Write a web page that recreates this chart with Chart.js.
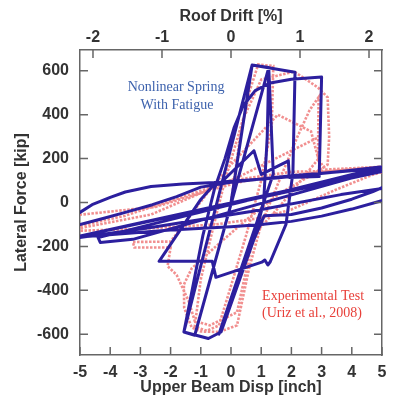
<!DOCTYPE html>
<html>
<head>
<meta charset="utf-8">
<script src="https://cdn.jsdelivr.net/npm/chart.js@4.4.1/dist/chart.umd.min.js"></script>
<style>
  body { margin: 0; background: #fff; }
  #wrap { width: 396px; height: 398px; }
</style>
</head>
<body>
<div id="wrap"><canvas id="hyst" width="396" height="398"></canvas></div>
<script>
// tick labels
const dispTicks = [-5, -4, -3, -2, -1, 0, 1, 2, 3, 4, 5];
const driftTicks = [-2, -1, 0, 1, 2];
const forceTicks = [-600, -400, -200, 0, 200, 400, 600];
const inchPerPercent = 2.285;

// Nonlinear spring with fatigue (blue), disp [inch] / force [kip]
const springDisp = [
  0.00, 0.70, 1.25, 1.20, 1.08, 0.76, -0.33, -0.75, -1.56, -0.93,
  -0.55, -0.20, 0.10, 0.40, 0.80, 1.30, 2.00, 3.00, 2.92, 1.93,
  1.90, 1.00, 0.76, -0.33, -0.56, -1.00, -2.38, -0.62, -0.50, 1.02,
  1.12, 1.22, 1.30, 1.82, 2.05, 2.12, 0.70, -1.56, -1.20, 1.25,
  1.40, -0.26, -0.40, 0.76, 1.10, 2.00, 3.00, 4.00, 4.70, 5.30,
  5.30, 3.64, 1.50, -0.56, -1.60, -2.65, -3.50, -4.00, -4.60, -5.00,
  -5.30, -5.30, -2.65, 0.66, 3.64, 5.30, 5.30, 2.00, 0.00, -1.00,
  -1.80, -2.60, -3.50, -4.30, -5.00, -5.30, -5.30, -2.00, 0.00, 1.00,
  2.00, 3.00, 4.00, 5.30, 5.30, -4.40, -4.33, -3.25, 5.30, 5.30,
  -5.30, 5.30
];
const springForce = [
  0, 627, 615, 300, 0, -168, -590, -620, -590, -150,
  60, 200, 340, 440, 510, 545, 562, 572, 118, 114,
  190, 128, 236, 91, 82, 14, -268, -268, -341, -272,
  -262, -285, -270, -100, 136, 594, 627, -590, -605, 615,
  130, -542, -600, -168, -60, -55, -25, 15, 50, 85,
  168, 141, 112, 91, 84, 73, 48, 23, -10, -45,
  -70, -165, -114, -41, 36, 70, 160, 122, 92, 70,
  27, -10, -45, -75, -100, -115, -160, -125, -110, -100,
  -86, -62, -30, 20, 172, -160, -182, -168, 162, 150,
  -162, 158
];

// Experimental test, Uriz et al. 2008 (pink)
const testDisp = [
  0.00, 0.30, 0.60, 0.90, 1.40, 1.35, 1.00, 0.50, 0.00, -0.40,
  -0.80, -1.20, -1.00, -0.60, -0.20, 0.40, 1.00, 2.09, 2.88, 3.20,
  3.25, 3.20, 2.60, 1.60, 0.50, -0.50, -1.30, -1.56, -1.55, -1.30,
  -1.00, -0.40, 0.20, 0.60, 1.00, 1.60, 2.20, 2.60, 2.90, 2.88,
  2.65, 1.55, 0.00, -0.80, -2.00, -3.25, -3.20, -2.00, -2.10, -1.80,
  -1.40, -1.20, -0.70, 0.20, 0.76, 1.60, 2.90, 3.10, 5.30, 3.00,
  0.50, -0.60, -2.50, -5.30, -5.30, -3.00, -0.50, 1.00, 2.00, 3.50,
  4.70, 5.30, 2.00, 0.00, -1.50, -3.50, -5.30, -5.30, -2.65, 0.30,
  2.88
];
const testForce = [
  0, 300, 500, 629, 622, 350, 100, -150, -380, -560,
  -585, -565, -350, -120, 100, 380, 560, 597, 524, 479,
  300, 173, 120, 40, -80, -200, -300, -374, -480, -570,
  -588, -590, -560, -300, -100, 100, 300, 420, 480, 205,
  324, 400, 173, 40, -178, -180, -205, -205, -290, -330,
  -450, -540, -560, -500, -145, -20, 200, 150, 165, 140,
  100, 60, -20, -60, -130, -120, -100, -70, -32, 60,
  127, 150, 140, 100, 30, -60, -115, -125, -55, 120,
  296
];

const springPts = springDisp.map((d, i) => ({ x: d, y: springForce[i] }));
const testPts = testDisp.map((d, i) => ({ x: d, y: testForce[i] }));

const axisFont = { family: "'Liberation Sans', Arial, sans-serif", size: 16, weight: 'bold' };
const frameColor = '#666';

function fixTicks(values) {
  return function (scale) {
    scale.ticks = values.map(v => ({ value: v }));
  };
}

const frameTicks = {
  id: 'frameTicks',
  afterDraw(chart) {
    const ctx = chart.ctx;
    const a = chart.chartArea;
    const s = chart.scales;
    const len = 8;
    ctx.save();
    ctx.strokeStyle = frameColor;
    ctx.lineWidth = 1.5;
    ctx.beginPath();
    dispTicks.forEach(v => {
      const px = s.x.getPixelForValue(v);
      ctx.moveTo(px, a.bottom); ctx.lineTo(px, a.bottom - len);
    });
    driftTicks.forEach(v => {
      const px = s.x2.getPixelForValue(v);
      ctx.moveTo(px, a.top); ctx.lineTo(px, a.top + len);
    });
    forceTicks.forEach(v => {
      const py = s.y.getPixelForValue(v);
      ctx.moveTo(a.left, py); ctx.lineTo(a.left + len, py);
      ctx.moveTo(a.right, py); ctx.lineTo(a.right - len, py);
    });
    ctx.stroke();

    // curve labels
    ctx.textAlign = 'center';
    ctx.textBaseline = 'middle';
    ctx.font = "14px 'Liberation Serif', 'Times New Roman', serif";
    ctx.fillStyle = '#3d62ad';
    ctx.fillText('Nonlinear Spring', s.x.getPixelForValue(-1.82), s.y.getPixelForValue(523));
    ctx.fillText('With Fatigue', s.x.getPixelForValue(-1.79), s.y.getPixelForValue(445));
    ctx.fillStyle = '#e8403a';
    ctx.fillText('Experimental Test', s.x.getPixelForValue(2.72), s.y.getPixelForValue(-427));
    ctx.fillText('(Uriz et al., 2008)', s.x.getPixelForValue(2.68), s.y.getPixelForValue(-505));
    ctx.restore();
  }
};

new Chart(document.getElementById('hyst'), {
  type: 'scatter',
  data: {
    datasets: [
      {
        label: 'Nonlinear Spring With Fatigue',
        data: springPts,
        showLine: true,
        borderColor: '#2c1f9e',
        borderWidth: 3,
        pointRadius: 0,
        tension: 0,
        borderJoinStyle: 'round'
      },
      {
        label: 'Experimental Test',
        data: testPts,
        showLine: true,
        borderColor: 'rgba(238, 115, 115, 0.8)',
        borderWidth: 2.6,
        borderDash: [2.5, 1.5],
        pointRadius: 0,
        tension: 0
      }
    ]
  },
  options: {
    responsive: false,
    animation: false,
    layout: { padding: 0 },
    plugins: { legend: { display: false }, tooltip: { enabled: false } },
    scales: {
      x: {
        type: 'linear',
        position: 'bottom',
        min: -5,
        max: 5,
        afterBuildTicks: fixTicks(dispTicks),
        afterFit: s => { s.height = 43; },
        grid: { display: false, drawTicks: false },
        border: { display: true, color: frameColor, width: 1.5 },
        ticks: { font: axisFont, color: '#333', padding: 8, maxRotation: 0 },
        title: { display: true, text: 'Upper Beam Disp [inch]', font: axisFont, color: '#333', padding: { top: 0, bottom: 1 } }
      },
      x2: {
        type: 'linear',
        position: 'top',
        min: -5 / inchPerPercent,
        max: 5 / inchPerPercent,
        afterBuildTicks: fixTicks(driftTicks),
        afterFit: s => { s.height = 50; },
        grid: { display: false, drawTicks: false },
        border: { display: true, color: frameColor, width: 1.5 },
        ticks: { font: axisFont, color: '#333', padding: 3, maxRotation: 0 },
        title: { display: true, text: 'Roof Drift [%]', font: axisFont, color: '#333', padding: { top: 7, bottom: 0 } }
      },
      y: {
        type: 'linear',
        position: 'left',
        min: -695,
        max: 695,
        afterBuildTicks: fixTicks(forceTicks),
        afterFit: s => { s.width = 80; },
        grid: { display: false, drawTicks: false },
        border: { display: true, color: frameColor, width: 1.5 },
        ticks: { font: axisFont, color: '#333', padding: 11 },
        title: { display: true, text: 'Lateral Force [kip]', font: axisFont, color: '#333', padding: { top: 12, bottom: 0 } }
      },
      y2: {
        type: 'linear',
        position: 'right',
        min: -695,
        max: 695,
        afterBuildTicks: fixTicks(forceTicks),
        afterFit: s => { s.width = 14; },
        grid: { display: false, drawTicks: false },
        border: { display: true, color: frameColor, width: 1.5 },
        ticks: { display: false }
      }
    }
  },
  plugins: [frameTicks]
});
</script>
</body>
</html>
